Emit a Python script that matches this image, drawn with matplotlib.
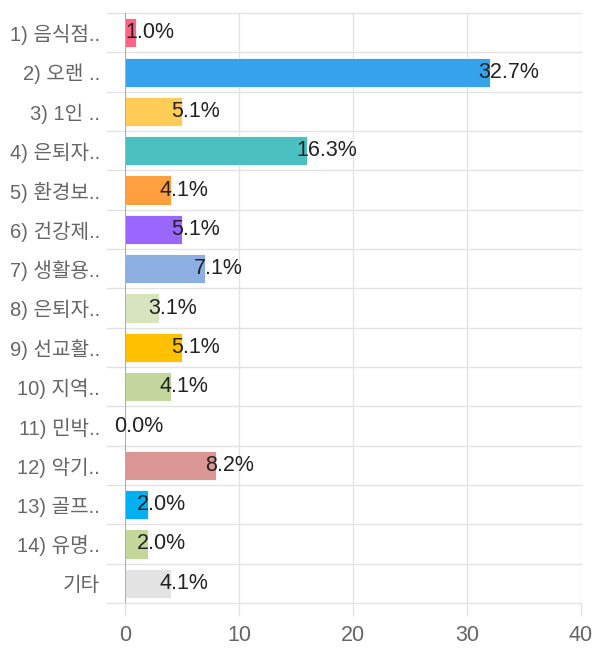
import matplotlib.pyplot as plt

plt.rcParams['font.family'] = ['Liberation Sans', 'Noto Sans CJK KR', 'DejaVu Sans']

labels = ["1) 음식점..", "2) 오랜 ..", "3) 1인 ..", "4) 은퇴자..", "5) 환경보..",
          "6) 건강제..", "7) 생활용..", "8) 은퇴자..", "9) 선교활..", "10) 지역..",
          "11) 민박..", "12) 악기..", "13) 골프..", "14) 유명..", "기타"]
counts = [1, 32, 5, 16, 4, 5, 7, 3, 5, 4, 0, 8, 2, 2, 4]
colors = ["#ff6384", "#36a2eb", "#ffcd56", "#4bc0c0", "#ff9f40",
          "#9966ff", "#8caee0", "#d7e4bd", "#ffc000", "#c3d69b",
          "#cccccc", "#d99694", "#00b0f0", "#c4d79b", "#e3e3e3"]
total = sum(counts)
pct = [c / total * 100 for c in counts]

fig = plt.figure(figsize=(6, 6.6), dpi=100)
ax = fig.add_axes([0.2083, 0.0864, 0.76, 0.8938])

y = list(range(len(labels)))
ax.barh(y, counts, height=0.74, color=colors, edgecolor="white", linewidth=0.6, zorder=3)

ax.set_xlim(0, 40)
ax.set_ylim(len(labels) - 0.5, -0.5)
ax.set_xticks([0, 10, 20, 30, 40])
ax.set_yticks(y)
ax.set_yticklabels(labels)

for s in ax.spines.values():
    s.set_visible(False)

ax.grid(axis="x", color="#e3e3e3", linewidth=1, zorder=0)
ax.axvline(0, color="#a0a0a0", linewidth=1.2, zorder=4)
for k in range(len(labels) + 1):
    ax.plot([-1.6, 40], [k - 0.5, k - 0.5], color="#e3e3e3", linewidth=1,
            clip_on=False, zorder=1)

ax.tick_params(axis="x", length=9, color="#e3e3e3", width=1, labelsize=15.5,
               labelcolor="#666666", pad=7)
ax.xaxis.get_major_ticks()[0].tick1line.set_color("#a0a0a0")
ax.tick_params(axis="y", length=0, labelsize=14.5, labelcolor="#666666", pad=18)

for yi, c, p in zip(y, counts, pct):
    ax.annotate(f"{p:.1f}%", (c, yi), xytext=(-8, 0), textcoords="offset points",
                ha="left", va="center", fontsize=15.5, color="#222222", zorder=5)

fig.savefig("out.png")
